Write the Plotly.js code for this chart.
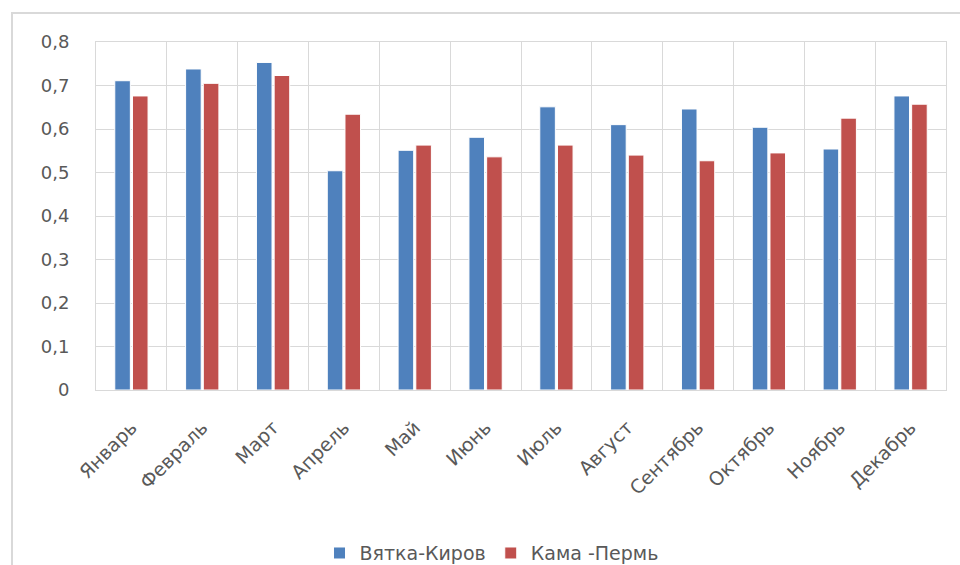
<!DOCTYPE html>
<html>
<head>
<meta charset="utf-8">
<script src="https://cdn.plot.ly/plotly-3.0.1.min.js"></script>
<style>
html,body{margin:0;padding:0;background:#fff;}
#wrap{position:relative;width:960px;height:565px;overflow:hidden;}
#frame{position:absolute;left:11px;top:12px;width:960px;height:600px;border-left:2px solid #D9D9D9;border-top:2px solid #D9D9D9;box-sizing:border-box;}
#chart{position:absolute;left:0;top:0;width:960px;height:565px;}
</style>
</head>
<body>
<div id="wrap"><div id="frame"></div><div id="chart"></div></div>
<script>
const months = ["Январь","Февраль","Март","Апрель","Май","Июнь","Июль","Август","Сентябрь","Октябрь","Ноябрь","Декабрь"];
const vyatkaKirov = [0.711,0.738,0.753,0.504,0.551,0.581,0.651,0.610,0.646,0.604,0.554,0.676];
const kamaPerm = [0.676,0.705,0.723,0.634,0.563,0.536,0.563,0.540,0.527,0.545,0.625,0.657];
const seriesNames = ["Вятка-Киров","Кама -Пермь"];
const yTickVals = [0,0.1,0.2,0.3,0.4,0.5,0.6,0.7,0.8];
const yTickText = ["0","0,1","0,2","0,3","0,4","0,5","0,6","0,7","0,8"];

const font = "'DejaVu Sans', Verdana, sans-serif";
const traces = [
  {type:"bar", name:seriesNames[0], x:months, y:vyatkaKirov,
   marker:{color:"#4F81BD", line:{color:"#FFFFFF", width:1}}},
  {type:"bar", name:seriesNames[1], x:months, y:kamaPerm,
   marker:{color:"#C0504D", line:{color:"#FFFFFF", width:1}}}
];
const layout = {
  width:960, height:565,
  paper_bgcolor:"rgba(0,0,0,0)", plot_bgcolor:"rgba(0,0,0,0)",
  margin:{l:96, r:14, t:42, b:175, autoexpand:false},
  barmode:"group", bargap:0.5, bargroupgap:0.12,
  font:{family:font, color:"#595959", size:18},
  showlegend:true,
  legend:{orientation:"h", x:0.512, xref:"container", xanchor:"center", y:0.021, yref:"container", yanchor:"middle",
          font:{size:19, color:"#595959"}, itemwidth:30, traceorder:"normal"},
  xaxis:{type:"category", tickson:"boundaries", showgrid:true, gridcolor:"#D9D9D9", gridwidth:1,
         showline:true, linecolor:"#D9D9D9", mirror:true, ticks:"", tickangle:-45,
         ticklabelstandoff:18, tickfont:{size:19, color:"#595959"}, zeroline:false},
  yaxis:{range:[0,0.8], tickvals:yTickVals, ticktext:yTickText, showgrid:true,
         gridcolor:"#D9D9D9", gridwidth:1, showline:true, linecolor:"#D9D9D9", mirror:true,
         ticks:"", ticklabelstandoff:22, tickfont:{size:18, color:"#595959"}, zeroline:false}
};
Plotly.newPlot("chart", traces, layout, {displayModeBar:false, staticPlot:true});
</script>
</body>
</html>
